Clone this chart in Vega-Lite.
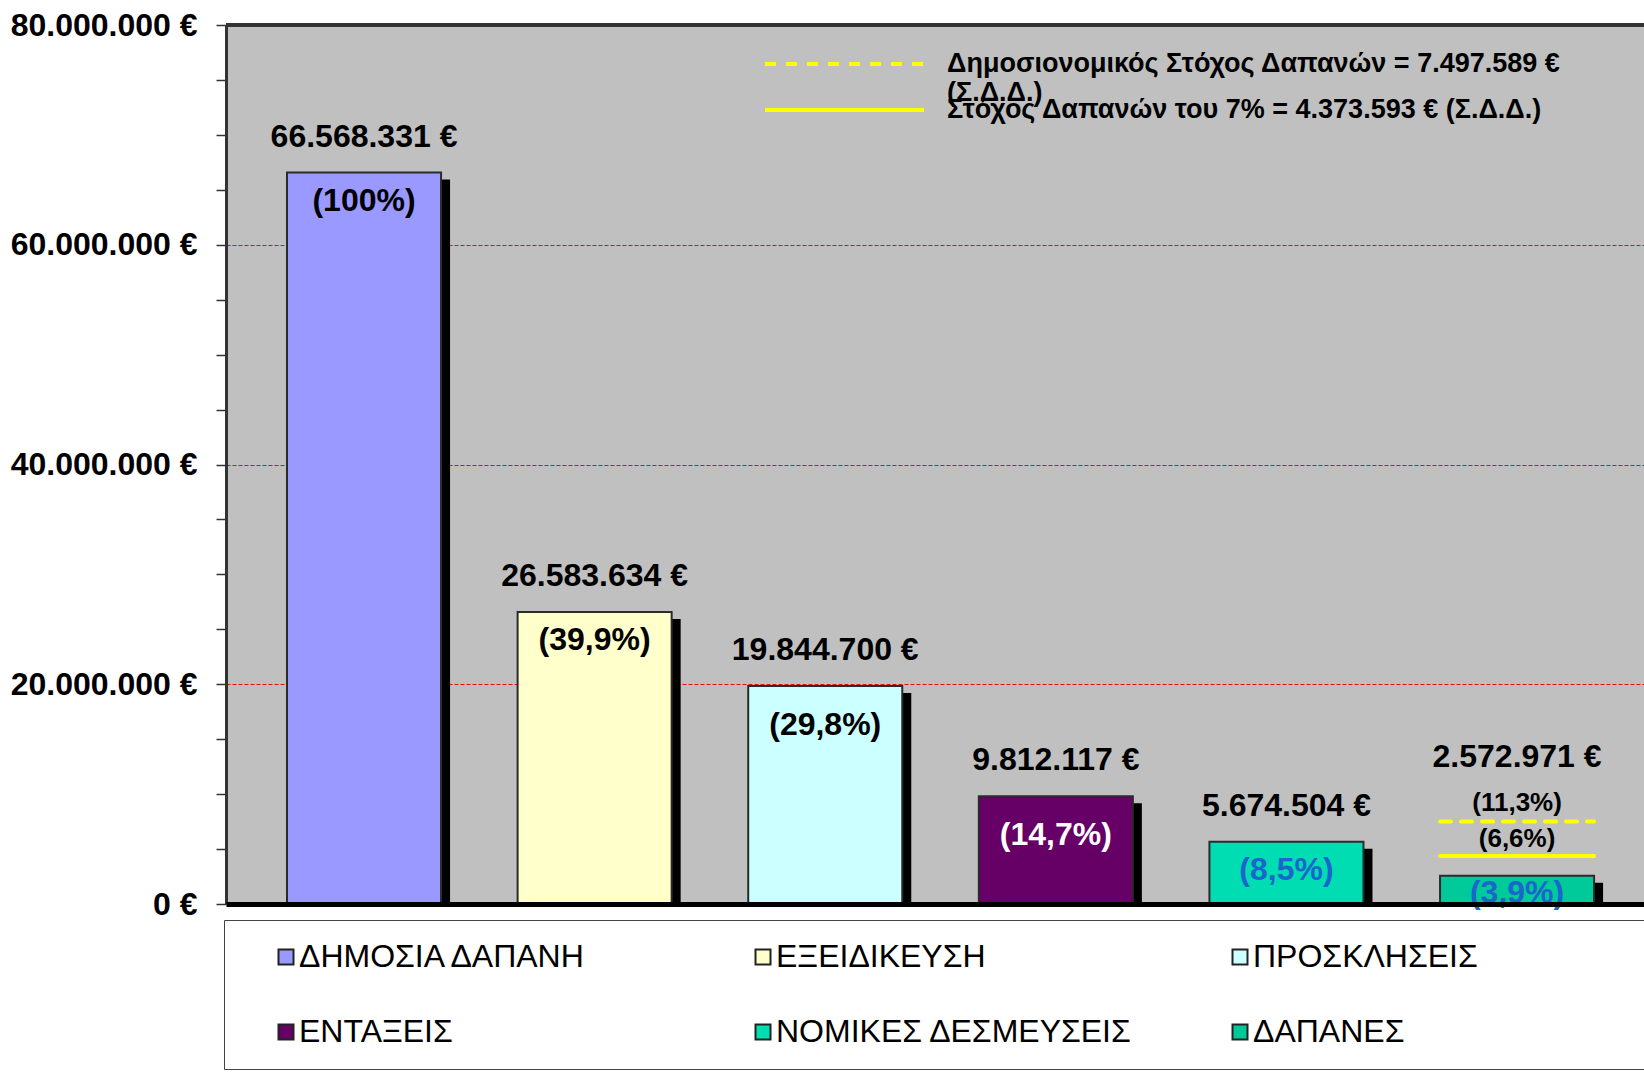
{
  "$schema": "https://vega.github.io/schema/vega-lite/v6.json",
  "autosize": {"type": "none"},
  "width": 1418,
  "height": 879,
  "padding": {"left": 226, "top": 25, "right": 0, "bottom": 169},
  "background": "white",
  "config": {"view": {"fill": "#C0C0C0", "stroke": null}, "font": "Liberation Sans"},
  "datasets": {
    "bars": [
      {"cat": "ΔΗΜΟΣΙΑ ΔΑΠΑΝΗ", "value": 66568331, "label": "66.568.331 €", "pct": "(100%)"},
      {"cat": "ΕΞΕΙΔΙΚΕΥΣΗ", "value": 26583634, "label": "26.583.634 €", "pct": "(39,9%)"},
      {"cat": "ΠΡΟΣΚΛΗΣΕΙΣ", "value": 19844700, "label": "19.844.700 €", "pct": "(29,8%)"},
      {"cat": "ΕΝΤΑΞΕΙΣ", "value": 9812117, "label": "9.812.117 €", "pct": "(14,7%)"},
      {"cat": "ΝΟΜΙΚΕΣ ΔΕΣΜΕΥΣΕΙΣ", "value": 5674504, "label": "5.674.504 €", "pct": "(8,5%)"},
      {"cat": "ΔΑΠΑΝΕΣ", "value": 2572971, "label": "2.572.971 €", "pct": "(3,9%)"}
    ],
    "fiscal": [
      {"cat": "ΔΑΠΑΝΕΣ", "fiscal": "Δημοσιονομικός Στόχος Δαπανών = 7.497.589 € (Σ.Δ.Δ.)", "value": 7497589, "pct": "(11,3%)"}
    ],
    "goal7": [
      {"cat": "ΔΑΠΑΝΕΣ", "goal": "Στόχος Δαπανών του 7% = 4.373.593 € (Σ.Δ.Δ.)", "value": 4373593, "pct": "(6,6%)"}
    ]
  },
  "encoding": {
    "x": {
      "field": "cat", "type": "nominal", "sort": null,
      "scale": {
        "domain": ["ΔΗΜΟΣΙΑ ΔΑΠΑΝΗ", "ΕΞΕΙΔΙΚΕΥΣΗ", "ΠΡΟΣΚΛΗΣΕΙΣ", "ΕΝΤΑΞΕΙΣ", "ΝΟΜΙΚΕΣ ΔΕΣΜΕΥΣΕΙΣ", "ΔΑΠΑΝΕΣ"],
        "paddingInner": 0.332, "paddingOuter": 0.2405, "align": 0.55
      },
      "axis": {"orient": "bottom", "title": null, "labels": false, "ticks": false, "grid": false, "domainColor": "black", "domainWidth": 5, "zindex": 1}
    },
    "y": {
      "field": "value", "type": "quantitative",
      "scale": {"domain": [0, 80000000], "nice": false},
      "axis": {
        "title": null,
        "values": [0, 5000000, 10000000, 15000000, 20000000, 25000000, 30000000, 35000000, 40000000, 45000000, 50000000, 55000000, 60000000, 65000000, 70000000, 75000000, 80000000],
        "labelExpr": "datum.value === 0 ? '0 €' : (datum.value % 20000000 === 0 ? format(datum.value / 1000000, 'd') + '.000.000 €' : '')",
        "labelFont": "Liberation Sans", "labelFontSize": 32, "labelFontWeight": "bold", "labelColor": "black",
        "labelPadding": 19, "labelOverlap": false, "labelLimit": 400,
        "tickSize": 10, "tickColor": "#333", "tickWidth": 1.5,
        "domainColor": "#333", "domainWidth": 3,
        "grid": true,
        "gridColor": {"condition": {"test": "datum.value % 20000000 === 0 && datum.value > 0 && datum.value < 80000000", "value": "#E01010"}, "value": "transparent"},
        "gridDash": [4, 2], "gridWidth": 1
      }
    }
  },
  "layer": [
    {
      "data": {"name": "bars"},
      "mark": {"type": "bar", "color": "black", "xOffset": 9, "yOffset": 7, "clip": true}
    },
    {
      "data": {"name": "bars"},
      "mark": {"type": "bar", "stroke": "#2b2b2b", "strokeWidth": 2},
      "encoding": {
        "color": {
          "field": "cat", "type": "nominal", "sort": null,
          "scale": {
            "domain": ["ΔΗΜΟΣΙΑ ΔΑΠΑΝΗ", "ΕΞΕΙΔΙΚΕΥΣΗ", "ΠΡΟΣΚΛΗΣΕΙΣ", "ΕΝΤΑΞΕΙΣ", "ΝΟΜΙΚΕΣ ΔΕΣΜΕΥΣΕΙΣ", "ΔΑΠΑΝΕΣ"],
            "range": ["#9999FF", "#FFFFCC", "#CCFFFF", "#660066", "#00DDB2", "#00C99A"]
          },
          "legend": {
            "title": " ", "titleOrient": "right", "titlePadding": 300, "titleFontSize": 10,
            "orient": "none", "legendX": -2, "legendY": 895,
            "direction": "horizontal", "columns": 3, "gridAlign": "all",
            "padding": 21, "fillColor": "white", "strokeColor": "#444",
            "labelFont": "Liberation Sans", "labelFontSize": 32, "labelColor": "black", "labelLimit": 700,
            "labelOffset": -3, "symbolOffset": 25,
            "symbolType": "square", "symbolSize": 225, "symbolStrokeColor": "#222", "symbolStrokeWidth": 2,
            "rowPadding": 43, "columnPadding": 66
          }
        }
      }
    },
    {
      "data": {"name": "fiscal"},
      "mark": {"type": "rule", "color": "#FFFF00", "strokeWidth": 4, "strokeCap": "round"},
      "encoding": {
        "x": {"field": "cat", "type": "nominal", "bandPosition": 0},
        "x2": {"field": "cat", "bandPosition": 1},
        "y": {"field": "value", "type": "quantitative"},
        "strokeDash": {
          "field": "fiscal", "type": "nominal",
          "scale": {"domain": ["Δημοσιονομικός Στόχος Δαπανών = 7.497.589 € (Σ.Δ.Δ.)"], "range": [[11, 10]]},
          "legend": {
            "title": null, "orient": "none", "legendX": 537, "legendY": 16, "padding": 0,
            "clipHeight": 46,
            "symbolType": "stroke", "symbolSize": 25281, "symbolStrokeColor": "#FFFF00", "symbolStrokeWidth": 4,
            "labelFont": "Liberation Sans", "labelFontWeight": "bold", "labelFontSize": 27, "labelColor": "black",
            "labelLimit": 900, "labelOffset": 21,
            "labelExpr": "['Δημοσιονομικός Στόχος Δαπανών = 7.497.589 €', '(Σ.Δ.Δ.)']"
          }
        }
      }
    },
    {
      "data": {"name": "goal7"},
      "mark": {"type": "rule", "color": "#FFFF00", "strokeWidth": 4, "strokeCap": "round"},
      "encoding": {
        "x": {"field": "cat", "type": "nominal", "bandPosition": 0},
        "x2": {"field": "cat", "bandPosition": 1},
        "y": {"field": "value", "type": "quantitative"},
        "opacity": {
          "field": "goal", "type": "ordinal",
          "scale": {"domain": ["Στόχος Δαπανών του 7% = 4.373.593 € (Σ.Δ.Δ.)"], "range": [1]},
          "legend": {
            "title": null, "orient": "none", "legendX": 537, "legendY": 62, "padding": 0,
            "clipHeight": 46,
            "symbolType": "stroke", "symbolSize": 25281, "symbolStrokeColor": "#FFFF00", "symbolStrokeWidth": 4,
            "labelFont": "Liberation Sans", "labelFontWeight": "bold", "labelFontSize": 27, "labelColor": "black",
            "labelLimit": 900, "labelOffset": 21
          }
        }
      }
    },
    {
      "data": {"name": "bars"},
      "mark": {"type": "rule", "color": "#333", "strokeWidth": 3},
      "encoding": {"x": null, "y": {"datum": 80000000, "type": "quantitative"}}
    },
    {
      "data": {"name": "bars"},
      "transform": [{"filter": "datum.cat !== 'ΔΑΠΑΝΕΣ'"}],
      "mark": {"type": "text", "font": "Liberation Sans", "fontWeight": "bold", "fontSize": 32, "dy": -36, "baseline": "middle", "color": "black"},
      "encoding": {"text": {"field": "label"}}
    },
    {
      "data": {"name": "bars"},
      "transform": [{"filter": "datum.cat === 'ΔΑΠΑΝΕΣ'"}],
      "mark": {"type": "text", "font": "Liberation Sans", "fontWeight": "bold", "fontSize": 32, "dy": -119, "baseline": "middle", "color": "black"},
      "encoding": {"text": {"field": "label"}}
    },
    {
      "data": {"name": "bars"},
      "transform": [{"filter": "datum.cat === 'ΔΗΜΟΣΙΑ ΔΑΠΑΝΗ' || datum.cat === 'ΕΞΕΙΔΙΚΕΥΣΗ' || datum.cat === 'ΝΟΜΙΚΕΣ ΔΕΣΜΕΥΣΕΙΣ'"}],
      "mark": {"type": "text", "font": "Liberation Sans", "fontWeight": "bold", "fontSize": 32, "dy": 28, "baseline": "middle"},
      "encoding": {
        "text": {"field": "pct"},
        "color": {"condition": {"test": "datum.cat === 'ΝΟΜΙΚΕΣ ΔΕΣΜΕΥΣΕΙΣ'", "value": "#1A66CC"}, "value": "black"}
      }
    },
    {
      "data": {"name": "bars"},
      "transform": [{"filter": "datum.cat === 'ΠΡΟΣΚΛΗΣΕΙΣ' || datum.cat === 'ΕΝΤΑΞΕΙΣ'"}],
      "mark": {"type": "text", "font": "Liberation Sans", "fontWeight": "bold", "fontSize": 32, "dy": 39, "baseline": "middle"},
      "encoding": {
        "text": {"field": "pct"},
        "color": {"condition": {"test": "datum.cat === 'ΕΝΤΑΞΕΙΣ'", "value": "white"}, "value": "black"}
      }
    },
    {
      "data": {"name": "bars"},
      "transform": [{"filter": "datum.cat === 'ΔΑΠΑΝΕΣ'"}],
      "mark": {"type": "text", "font": "Liberation Sans", "fontWeight": "bold", "fontSize": 32, "dy": 17, "baseline": "middle", "color": "#1A66CC"},
      "encoding": {"text": {"field": "pct"}}
    },
    {
      "data": {"name": "fiscal"},
      "mark": {"type": "text", "font": "Liberation Sans", "fontWeight": "bold", "fontSize": 26, "dy": -19, "baseline": "middle", "color": "black"},
      "encoding": {"text": {"field": "pct"}}
    },
    {
      "data": {"name": "goal7"},
      "mark": {"type": "text", "font": "Liberation Sans", "fontWeight": "bold", "fontSize": 26, "dy": -17, "baseline": "middle", "color": "black"},
      "encoding": {"text": {"field": "pct"}}
    }
  ]
}
